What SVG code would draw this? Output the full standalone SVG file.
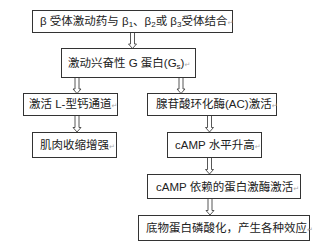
<svg xmlns="http://www.w3.org/2000/svg" width="320" height="250" viewBox="0 0 320 250">
<style>
.box{fill:#fff;stroke:#333;stroke-width:1}
.t{font-family:"Liberation Sans","Noto Sans CJK SC",sans-serif;font-size:11.5px;fill:#222}
.s{font-size:8px}
.r{font-family:"DejaVu Sans",sans-serif;font-size:7px;fill:#aaa}
.arr{fill:#fff;stroke:#444;stroke-width:0.9}
</style>
<rect width="320" height="250" fill="#fff"/>
<g id="connectors">
<path class="arr" d="M130.5 32.5V44H128.5L132.5 48.5L136.5 44H134.5V32.5"/>
<path class="arr" d="M75 77.5V89H73L77 93.5L81 89H79V77.5"/>
<path class="arr" d="M179 77.5V89H177L181 93.5L185 89H183V77.5"/>
<path class="arr" d="M75 115.5V127.5H73L77 132L81 127.5H79V115.5"/>
<path class="arr" d="M207.5 115.5V127.5H205.5L209.5 132L213.5 127.5H211.5V115.5"/>
<path class="arr" d="M207.5 157.5V169.5H205.5L209.5 174L213.5 169.5H211.5V157.5"/>
<path class="arr" d="M208 198.5V210.5H206L210 215L214 210.5H212V198.5"/>
</g>
<g id="n1">
<rect class="box" x="32.5" y="10.5" width="200" height="22"/>
<text class="t" x="40" y="25">β 受体激动药与 β<tspan class="s" dy="2">1</tspan><tspan dy="-2">、β</tspan><tspan class="s" dy="2">2</tspan><tspan dy="-2">或 β</tspan><tspan class="s" dy="2">3</tspan><tspan dy="-2">受体结合</tspan><tspan class="r">↵</tspan></text>
</g>
<g id="n2">
<rect class="box" x="61.5" y="48.5" width="134" height="29"/>
<text class="t" x="68" y="67">激动兴奋性 G 蛋白(G<tspan class="s" dy="2">s</tspan><tspan dy="-2">)</tspan><tspan class="r">↵</tspan></text>
</g>
<g id="n3">
<rect class="box" x="23.5" y="93.5" width="94" height="22"/>
<text class="t" x="29" y="108">激活 L-型钙通道<tspan class="r">↵</tspan></text>
</g>
<g id="n4">
<rect class="box" x="32.5" y="132.5" width="84" height="25"/>
<text class="t" x="40" y="149">肌肉收缩增强<tspan class="r">↵</tspan></text>
</g>
<g id="n5">
<rect class="box" x="147.5" y="93.5" width="129" height="22"/>
<text class="t" x="156" y="108">腺苷酸环化酶(AC)激活<tspan class="r">↵</tspan></text>
</g>
<g id="n6">
<rect class="box" x="167.5" y="132.5" width="94" height="25"/>
<text class="t" x="175" y="149">cAMP 水平升高<tspan class="r">↵</tspan></text>
</g>
<g id="n7">
<rect class="box" x="147.5" y="174.5" width="153" height="24"/>
<text class="t" x="156" y="191">cAMP 依赖的蛋白激酶激活<tspan class="r">↵</tspan></text>
</g>
<g id="n8">
<rect class="box" x="138.5" y="215.5" width="171" height="25"/>
<text class="t" x="146" y="232">底物蛋白磷酸化，产生各种效应<tspan class="r">↵</tspan></text>
</g>
</svg>
